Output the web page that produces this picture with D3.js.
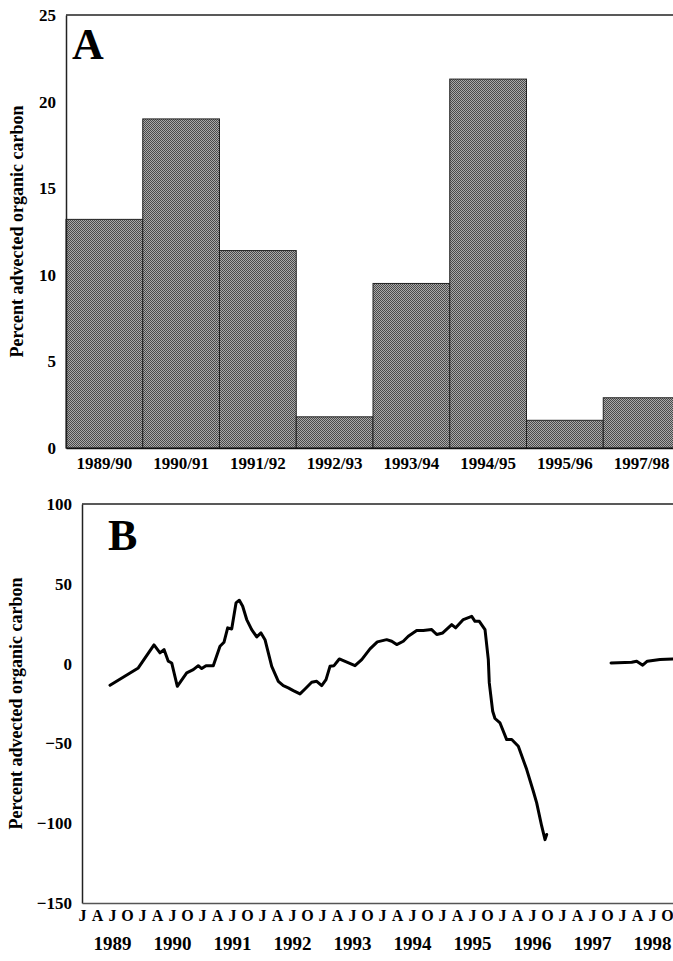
<!DOCTYPE html>
<html>
<head>
<meta charset="utf-8">
<script src="https://cdn.jsdelivr.net/npm/d3@7"></script>
<style>
  body { margin: 0; background: #fff; }
  svg { display: block; }
  text { font-family: "Liberation Serif", "Times New Roman", serif; font-weight: bold; fill: #000; }
</style>
</head>
<body>
<svg id="chart" width="673" height="961"></svg>
<script>
// panel A - seasonal bars
var seasons = ["1989/90", "1990/91", "1991/92", "1992/93", "1993/94", "1994/95", "1995/96", "1997/98"];
var seasonValues = [13.2, 19.0, 11.4, 1.8, 9.5, 21.3, 1.6, 2.9];
var ticksA = [0, 5, 10, 15, 20, 25];

// panel B - running series (decimal years), null = gap in the record
var seriesDates = [
  1989.467, 1989.938, 1990.200, 1990.300, 1990.367, 1990.438, 1990.495, 1990.588,
  1990.745, 1990.855, 1990.938, 1990.995, 1991.067, 1991.188, 1991.300, 1991.367,
  1991.428, 1991.495, 1991.567, 1991.622, 1991.678, 1991.745, 1991.828, 1991.912,
  1991.983, 1992.050, 1992.162, 1992.272, 1992.355, 1992.438, 1992.522, 1992.633,
  1992.717, 1992.828, 1992.912, 1992.995, 1993.067, 1993.133, 1993.200, 1993.288,
  1993.550, 1993.662, 1993.800, 1993.922, 1994.078, 1994.162, 1994.245, 1994.355,
  1994.438, 1994.578, 1994.688, 1994.828, 1994.912, 1995.012, 1995.162, 1995.228,
  1995.355, 1995.495, 1995.550, 1995.622, 1995.717, 1995.772, 1995.788, 1995.845,
  1995.883, 1995.967, 1996.078, 1996.162, 1996.272, 1996.412, 1996.522, 1996.578,
  1996.662, 1996.717, 1996.745,
  1997.300,
  1997.817, 1998.162, 1998.245, 1998.345, 1998.422, 1998.633, 1998.845
];
var seriesValues = [
  -13.6, -2.7, 11.7, 6.7, 8.8, 1.5, 0.4, -14.2,
  -5.8, -3.8, -1.3, -3.1, -1.3, -1.3, 10.9, 13.4,
  22.4, 21.7, 38.0, 39.7, 35.9, 27.6, 21.3, 16.7,
  19.2, 15.0, -1.7, -11.1, -13.8, -15.2, -16.9, -19.0,
  -15.9, -11.7, -11.1, -13.8, -10.0, -1.7, -1.3, 2.9,
  -1.3, 2.5, 9.2, 13.6, 15.0, 14.0, 11.9, 14.0,
  17.1, 20.7, 20.7, 21.3, 18.2, 19.2, 24.4, 22.4,
  27.6, 29.6, 26.5, 26.5, 21.3, 2.5, -12.1, -29.9,
  -34.4, -37.2, -47.6, -47.6, -51.8, -66.4, -80.0, -87.3,
  -101.9, -110.3, -107.1,
  null,
  0.4, 0.8, 1.5, -1.0, 1.5, 2.5, 2.9
];
var ticksB = [-150, -100, -50, 0, 50, 100];
var monthLetters = ["J", "A", "J", "O"];
var years = [1989, 1990, 1991, 1992, 1993, 1994, 1995, 1996, 1997, 1998];

var svg = d3.select("#chart");

// halftone-ish fill for the bars
var pat = svg.append("defs").append("pattern")
    .attr("id", "dots")
    .attr("width", 2).attr("height", 2)
    .attr("patternUnits", "userSpaceOnUse");
pat.append("rect").attr("width", 2).attr("height", 2).attr("fill", "#aaa");
pat.append("rect").attr("x", 0).attr("y", 0).attr("width", 1).attr("height", 1).attr("fill", "#4a4a4a");
pat.append("rect").attr("x", 1).attr("y", 1).attr("width", 1).attr("height", 1).attr("fill", "#4a4a4a");

/* ---------- panel A ---------- */
var xA = d3.scaleBand().domain(seasons).range([66, 680]).padding(0);
var yA = d3.scaleLinear().domain([0, 25]).range([448, 15]);

var gA = svg.append("g");

gA.selectAll("rect.bar")
    .data(seasons)
    .enter().append("rect")
    .attr("class", "bar")
    .attr("x", function(d) { return xA(d); })
    .attr("y", function(d, i) { return yA(seasonValues[i]); })
    .attr("width", xA.bandwidth())
    .attr("height", function(d, i) { return yA(0) - yA(seasonValues[i]); })
    .attr("fill", "url(#dots)")
    .attr("stroke", "#222")
    .attr("stroke-width", 1);

// frame top line
gA.append("line")
    .attr("x1", 66).attr("x2", 680)
    .attr("y1", yA(25)).attr("y2", yA(25))
    .attr("stroke", "#222").attr("stroke-width", 1.5);

var axA = gA.append("g")
    .attr("transform", "translate(66,0)")
    .call(d3.axisLeft(yA).tickValues(ticksA).tickSize(0).tickPadding(10));
axA.select(".domain").attr("stroke", "#222").attr("stroke-width", 1.5);
axA.selectAll("text").style("font-size", "17px");

var axAx = gA.append("g")
    .attr("transform", "translate(0," + yA(0) + ")")
    .call(d3.axisBottom(xA).tickSize(0).tickPadding(9));
axAx.select(".domain").attr("stroke", "#111").attr("stroke-width", 1.5);
axAx.selectAll("text").style("font-size", "17px");

gA.append("text")
    .attr("x", 72).attr("y", 59)
    .style("font-size", "44px")
    .text("A");

gA.append("text")
    .attr("transform", "translate(23," + ((yA(0) + yA(25)) / 2) + ") rotate(-90)")
    .attr("text-anchor", "middle")
    .style("font-size", "18px")
    .text("Percent advected organic carbon");

/* ---------- panel B ---------- */
var xB = d3.scaleLinear().domain([1989, 1999]).range([82, 682]);
var yB = d3.scaleLinear().domain([-150, 100]).range([903, 504]);

var gB = svg.append("g");

gB.append("line")
    .attr("x1", 82).attr("x2", 682)
    .attr("y1", yB(100)).attr("y2", yB(100))
    .attr("stroke", "#222").attr("stroke-width", 1.5);

var axB = gB.append("g")
    .attr("transform", "translate(82,0)")
    .call(d3.axisLeft(yB).tickValues(ticksB).tickSize(0).tickPadding(10));
axB.select(".domain").attr("stroke", "#222").attr("stroke-width", 1.5);
axB.selectAll("text").style("font-size", "17px");

var quarters = d3.range(40).map(function(i) { return 1989 + i * 0.25; });
var axBq = gB.append("g")
    .attr("transform", "translate(0," + yB(-150) + ")")
    .call(d3.axisBottom(xB).tickValues(quarters).tickSize(0).tickPadding(7)
        .tickFormat(function(d, i) { return monthLetters[i % 4]; }));
axBq.select(".domain").attr("stroke", "#555").attr("stroke-width", 1.5);
axBq.selectAll("text").style("font-size", "16px");

var axBy = gB.append("g")
    .attr("transform", "translate(0," + (yB(-150) + 27) + ")")
    .call(d3.axisBottom(xB).tickValues(years.map(function(y) { return y + 0.5; })).tickSize(0).tickPadding(7)
        .tickFormat(function(d) { return Math.floor(d); }));
axBy.select(".domain").remove();
axBy.selectAll("text").style("font-size", "19px");

var pts = seriesDates.map(function(d, i) { return { t: d, v: seriesValues[i] }; });
var line = d3.line()
    .defined(function(d) { return d.v !== null; })
    .x(function(d) { return xB(d.t); })
    .y(function(d) { return yB(d.v); })
    .curve(d3.curveLinear);

gB.append("path")
    .datum(pts)
    .attr("fill", "none")
    .attr("stroke", "#000")
    .attr("stroke-width", 3)
    .attr("stroke-linejoin", "round")
    .attr("stroke-linecap", "round")
    .attr("d", line);

gB.append("text")
    .attr("x", 108).attr("y", 550)
    .style("font-size", "44px")
    .text("B");

gB.append("text")
    .attr("transform", "translate(22," + ((yB(-150) + yB(100)) / 2) + ") rotate(-90)")
    .attr("text-anchor", "middle")
    .style("font-size", "18px")
    .text("Percent advected organic carbon");
</script>
</body>
</html>
